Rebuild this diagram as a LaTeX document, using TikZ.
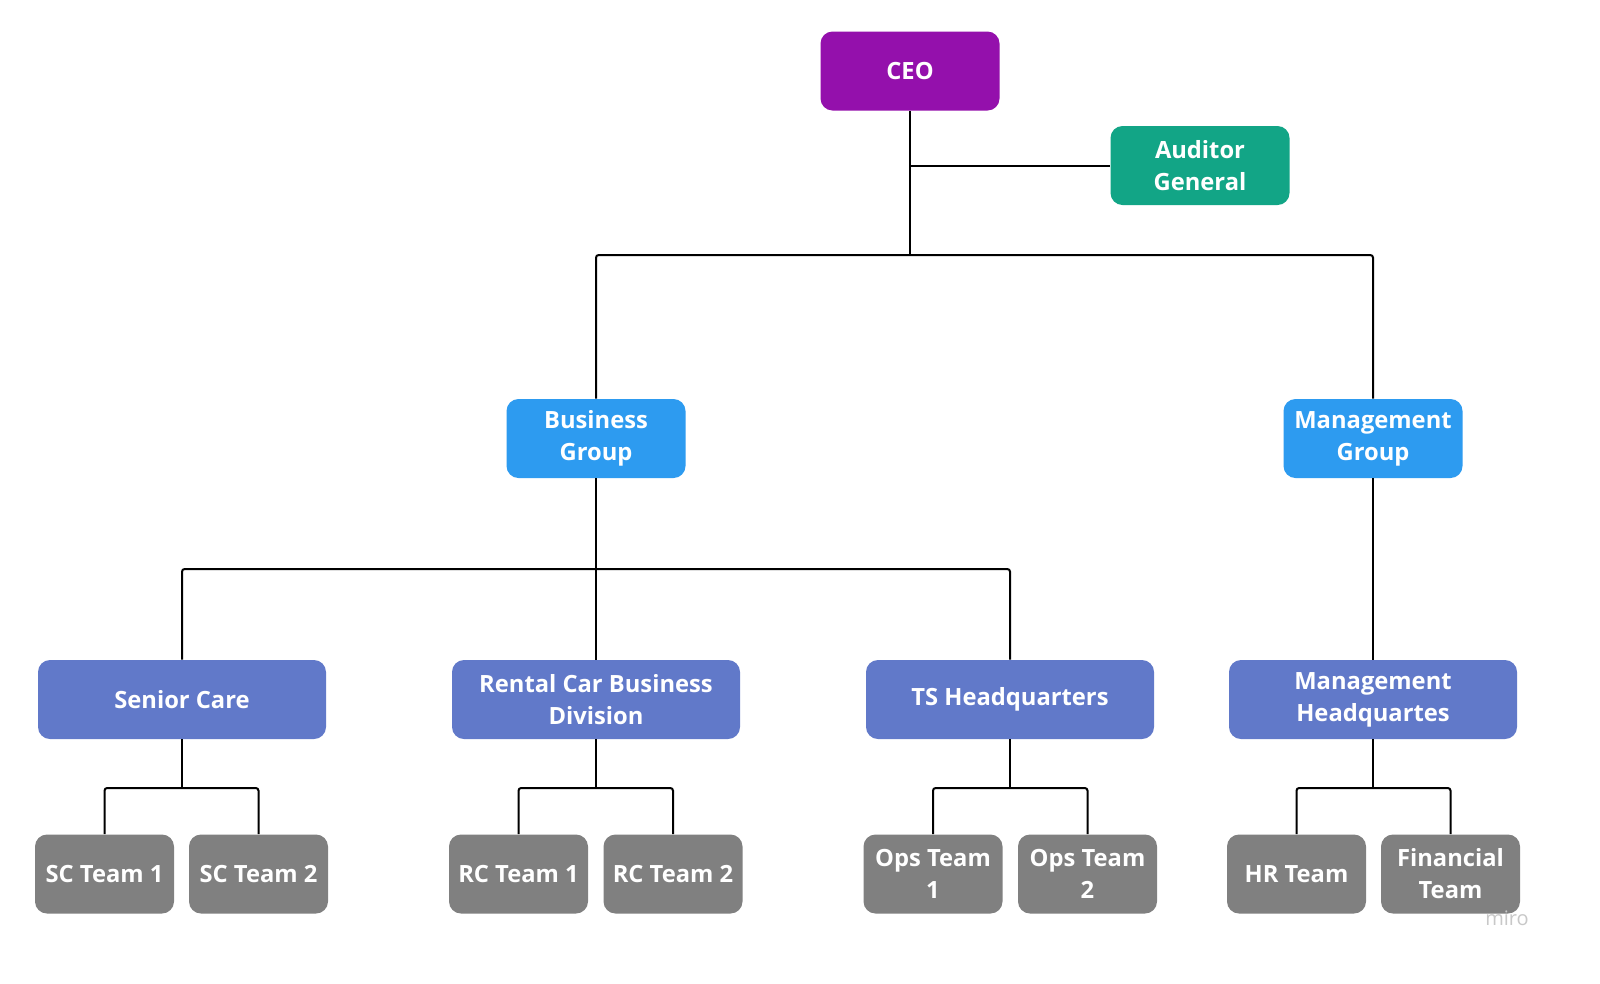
\documentclass[tikz,border=0pt]{standalone}
\usepackage{fontspec}
\setmainfont{Open Sans}
\definecolor{ceoc}{HTML}{9410AC}
\definecolor{audc}{HTML}{12A586}
\definecolor{grpc}{HTML}{2D9BF0}
\definecolor{divc}{HTML}{6179C9}
\definecolor{teamc}{HTML}{808080}
\definecolor{miroc}{HTML}{C8C8C8}
\begin{document}
\begin{tikzpicture}[x=0.75pt,y=-0.75pt,
  box/.style={rectangle,rounded corners=9pt,text=white,font=\bfseries\fontsize{17.8}{24}\selectfont,align=center,inner sep=0pt,minimum height=59.25pt},
  small/.style={box,minimum width=134.25pt},
  wide/.style={box,minimum width=216pt},
  team/.style={box,minimum width=104.25pt,fill=teamc},
  conn/.style={draw=black,line width=1.5pt,rounded corners=2pt}]
\useasboundingbox (0,0) rectangle (1600,983);
\fill[white] (0,0) rectangle (1600,983);
% level 0
\node[small,fill=ceoc] (ceo) at (910,71) {CEO};
\node[small,fill=audc] (aud) at (1200,165.5) {Auditor\\General};
% level 1
\node[small,fill=grpc] (bg) at (596,438.5) {Business\\Group};
\node[small,fill=grpc] (mg) at (1373,438.5) {Management\\Group};
% level 2
\node[wide,fill=divc] (sc) at (182,699.5) {Senior Care};
\node[wide,fill=divc] (rc) at (596,699.5) {Rental Car Business\\Division};
\node[wide,fill=divc] (ts) at (1010,699.5) {TS Headquarters};
\node[wide,fill=divc] (mh) at (1373,699.5) {Management\\Headquartes};
% level 3
\node[team] (sc1) at (104.5,874) {SC Team 1};
\node[team] (sc2) at (258.5,874) {SC Team 2};
\node[team] (rc1) at (518.5,874) {RC Team 1};
\node[team] (rc2) at (673,874) {RC Team 2};
\node[team] (op1) at (933,874) {Ops Team\\1};
\node[team] (op2) at (1087.5,874) {Ops Team\\2};
\node[team] (hr) at (1296.5,874) {HR Team};
\node[team] (fin) at (1450.5,874) {Financial\\Team};
% junctions
\coordinate (j0) at (910,255);
\coordinate (ja) at (910,165.5);
\coordinate (j1) at (596,569);
\coordinate (jsc) at (182,788);
\coordinate (jrc) at (596,788);
\coordinate (jts) at (1010,788);
\coordinate (jmh) at (1373,788);
% connectors
\draw[conn] (ceo.south) -- (j0);
\draw[conn] (ja) -- (aud.west);
\draw[conn] (bg.north) |- (j0) -| (mg.north);
\draw[conn] (bg.south) -- (rc.north);
\draw[conn] (sc.north) |- (j1) -| (ts.north);
\draw[conn] (mg.south) -- (mh.north);
\draw[conn] (sc.south) -- (jsc);
\draw[conn] (sc1.north) |- (jsc) -| (sc2.north);
\draw[conn] (rc.south) -- (jrc);
\draw[conn] (rc1.north) |- (jrc) -| (rc2.north);
\draw[conn] (ts.south) -- (jts);
\draw[conn] (op1.north) |- (jts) -| (op2.north);
\draw[conn] (mh.south) -- (jmh);
\draw[conn] (hr.north) |- (jmh) -| (fin.north);
% watermark
\node[text=miroc,font=\fontsize{15}{18}\selectfont,inner sep=0pt] (miro) at (1507,918) {miro};
\end{tikzpicture}
\end{document}
